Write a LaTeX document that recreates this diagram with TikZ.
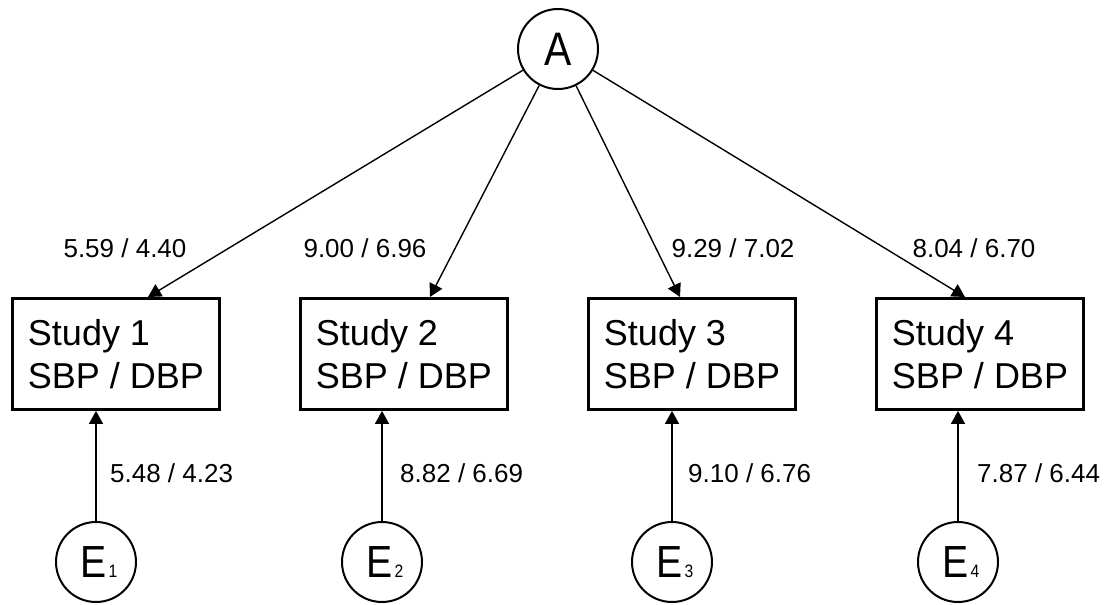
\documentclass[tikz,border=0pt]{standalone}
\usepackage{fontspec}
\setmainfont{Liberation Sans}
\newfontfamily\tallsans{Liberation Sans}[FakeStretch=0.87]
\usetikzlibrary{arrows.meta}
\begin{document}
\begin{tikzpicture}[x=1pt,y=-1pt,
  latent/.style={circle,draw,line width=2pt,minimum size=80pt,inner sep=0pt},
  studybox/.style={draw,line width=2.8pt,minimum width=207pt,minimum height=111pt,
    align=left,inner sep=0pt,font=\fontsize{36}{43}\selectfont},
  link/.style={line width=1.4pt,-{Triangle[length=13pt,width=14pt]}},
  coef/.style={font=\fontsize{26}{30}\selectfont,inner sep=0pt}
]
\useasboundingbox (0,0) rectangle (1104,605);

% common factor
\node[latent,font=\tallsans\fontsize{47}{47}\selectfont] (A) at (558,49) {A};

% observed studies
\node[studybox] (s1) at (116,354) {Study 1\\SBP / DBP};
\node[studybox] (s2) at (404,354) {Study 2\\SBP / DBP};
\node[studybox] (s3) at (692,354) {Study 3\\SBP / DBP};
\node[studybox] (s4) at (980,354) {Study 4\\SBP / DBP};

% error terms
\newcommand{\errlabel}[1]{\tallsans\fontsize{45}{45}\selectfont\hspace{6pt}E\hspace{2pt}{\fontsize{18}{18}\selectfont#1}}
\node[latent] (e1) at (96,562)  {\errlabel{1}};
\node[latent] (e2) at (382,562) {\errlabel{2}};
\node[latent] (e3) at (672,562) {\errlabel{3}};
\node[latent] (e4) at (958,562) {\errlabel{4}};

% loading arrow targets on the box tops
\coordinate (t1) at (148,297);
\coordinate (t2) at (430,297);
\coordinate (t3) at (680,297);
\coordinate (t4) at (965,297);

\draw[link] (A) -- (t1);
\draw[link] (A) -- (t2);
\draw[link] (A) -- (t3);
\draw[link] (A) -- (t4);

\draw[link] (e1) -- (e1 |- s1.south);
\draw[link] (e2) -- (e2 |- s2.south);
\draw[link] (e3) -- (e3 |- s3.south);
\draw[link] (e4) -- (e4 |- s4.south);

% loadings
\node[coef] (l1) at (125,248) {5.59 / 4.40};
\node[coef] (l2) at (365,248) {9.00 / 6.96};
\node[coef] (l3) at (733,248) {9.29 / 7.02};
\node[coef] (l4) at (974,248) {8.04 / 6.70};

% error weights
\node[coef,anchor=west] (w1) at (110,473) {5.48 / 4.23};
\node[coef,anchor=west] (w2) at (400,473) {8.82 / 6.69};
\node[coef,anchor=west] (w3) at (688,473) {9.10 / 6.76};
\node[coef,anchor=west] (w4) at (977,473) {7.87 / 6.44};
\end{tikzpicture}
\end{document}
